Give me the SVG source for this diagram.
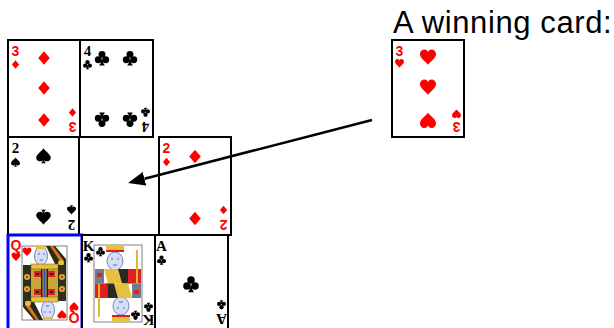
<svg xmlns="http://www.w3.org/2000/svg" xmlns:xlink="http://www.w3.org/1999/xlink" width="614" height="328" viewBox="0 0 614 328">
<style>
.card{fill:#fff;stroke:#000;stroke-width:2}
.qcard{fill:#fff;stroke:#0000ff;stroke-width:3}
.r{fill:#ff0000}
.b{fill:#000}
.rk{font-family:"Liberation Sans",Arial,sans-serif;font-weight:bold;font-size:14px;text-anchor:middle}
.bk{font-family:"Liberation Serif","Times New Roman",serif;font-weight:bold;font-size:15px;text-anchor:middle}
.frame{fill:#fff;stroke:#808080;stroke-width:1}
.title{font-family:"Liberation Sans",Arial,sans-serif;font-size:31px;letter-spacing:0.6px;fill:#000}
.conn{stroke:#000;stroke-width:2.6;fill:none}
</style>
<defs>
<path id="dia" d="M0,-10 L8.5,0 L0,10 L-8.5,0 Z"/>
<path id="hrt" d="M0,9 C-3,5 -10,1 -10,-4 C-10,-8 -7,-10 -4.5,-10 C-2,-10 -0.5,-8.5 0,-6.5 C0.5,-8.5 2,-10 4.5,-10 C7,-10 10,-8 10,-4 C10,1 3,5 0,9 Z"/>
<path id="spd" d="M0,-10 C-2,-6 -10,-2 -10,3 C-10,6.5 -7,8 -4.5,8 C-2.5,8 -1.2,7 -0.8,6 C-1,8 -2,9.5 -4,10.5 L4,10.5 C2,9.5 1,8 0.8,6 C1.2,7 2.5,8 4.5,8 C7,8 10,6.5 10,3 C10,-2 2,-6 0,-10 Z"/>
<g id="clb"><circle cx="0" cy="-5" r="4.8"/><circle cx="-5.2" cy="2.5" r="4.8"/><circle cx="5.2" cy="2.5" r="4.8"/><path d="M-1,2 Q-1,8 -4,10.5 L4,10.5 Q1,8 1,2 Z"/></g>
<marker id="arr" markerUnits="userSpaceOnUse" viewBox="0 0 17 14" refX="0" refY="7" markerWidth="17" markerHeight="14" orient="auto"><path d="M0,0 L17,7 L0,14 Z" fill="#000"/></marker>
<g id="qhalf">
<polygon points="38,11 47,11 58,24 58,31 48,31" fill="#2a2a1a"/>
<polygon points="42,11 45,11 56,26 53,28" fill="#e07020"/>
<circle cx="53" cy="28" r="3" fill="#e8c040"/>
<ellipse cx="33" cy="21" rx="6.5" ry="9.5" fill="#d5def7" stroke="#5a6ab0" stroke-width="0.8"/>
<path d="M30,19 h2 M35,19 h2 M32,25 h3" stroke="#4a5aa0" stroke-width="0.9"/>
<rect x="28" y="11" width="10" height="3" fill="#e8c040"/>
<use xlink:href="#hrt" class="r" transform="translate(19,17) scale(0.45)"/>
<rect x="15" y="30" width="43" height="18" fill="#c9a437"/>
<rect x="15" y="30" width="8" height="18" fill="#2f2f1a"/>
<rect x="50" y="30" width="8" height="18" fill="#2f2f1a"/>
<rect x="23" y="29" width="27" height="5" fill="#e8c040" stroke="#6a5a10" stroke-width="0.5"/>
<rect x="26" y="36" width="7" height="6" fill="#e02020"/>
<rect x="40" y="36" width="7" height="6" fill="#e02020"/>
<rect x="28" y="38" width="3" height="2" fill="#222"/>
<rect x="42" y="38" width="3" height="2" fill="#222"/>
<rect x="35.5" y="34" width="2" height="14" fill="#3050c0"/>
<rect x="33" y="34" width="1.5" height="14" fill="#222"/>
<rect x="38.5" y="34" width="1.5" height="14" fill="#222"/>
<circle cx="19" cy="42" r="3" fill="#d8b030"/>
<circle cx="54" cy="42" r="3" fill="#d8b030"/>
<circle cx="19" cy="42" r="1.2" fill="#e02020"/>
<circle cx="54" cy="42" r="1.2" fill="#e02020"/>
</g>
<g id="khalf">
<rect x="24" y="11" width="18" height="6" fill="#e8c030"/>
<rect x="24" y="15" width="18" height="2" fill="#d02020"/>
<ellipse cx="33" cy="26" rx="8" ry="9" fill="#d5def7" stroke="#5a6ab0" stroke-width="0.8"/>
<path d="M29,24 h2 M35,24 h2 M31,30 h4" stroke="#4a5aa0" stroke-width="0.9"/>
<use xlink:href="#clb" class="b" transform="translate(18.5,16.5) scale(0.45)"/>
<rect x="13" y="34" width="9" height="14.5" fill="#707a90"/>
<polygon points="22,34 36,34 40,48.5 26,48.5" fill="#e8c040"/>
<polygon points="36,34 46,34 48,48.5 40,48.5" fill="#2a2a20"/>
<rect x="46" y="34" width="13" height="14.5" fill="#e02020"/>
<rect x="15" y="38" width="5" height="4" fill="#e02020"/>
<rect x="54" y="15" width="2" height="33" fill="#e0b830"/>
</g>
</defs>

<g id="title"><text class="title" x="393" y="33">A winning card:</text></g>

<g id="card-3d" transform="translate(8,40)">
<rect class="card" x="0" y="0" width="72" height="97"/>
<g><text class="rk r" x="7.5" y="15.5">3</text><use xlink:href="#dia" class="r" transform="translate(7.5,24.5) scale(0.42)"/></g>
<g transform="rotate(180,36,48.5)"><text class="rk r" x="7.5" y="15.5">3</text><use xlink:href="#dia" class="r" transform="translate(7.5,24.5) scale(0.42)"/></g>
<use xlink:href="#dia" class="r" transform="translate(36,18) scale(0.68)"/>
<use xlink:href="#dia" class="r" transform="translate(36,48) scale(0.68)"/>
<use xlink:href="#dia" class="r" transform="translate(36,80) scale(0.68)"/>
</g>

<g id="card-4c" transform="translate(80,40)">
<rect class="card" x="0" y="0" width="73" height="97"/>
<g><text class="bk b" x="7.5" y="15.5">4</text><use xlink:href="#clb" class="b" transform="translate(7.5,24.5) scale(0.45)"/></g>
<g transform="rotate(180,36.5,48.5)"><text class="bk b" x="7.5" y="15.5">4</text><use xlink:href="#clb" class="b" transform="translate(7.5,24.5) scale(0.45)"/></g>
<use xlink:href="#clb" class="b" transform="translate(22,18) scale(0.72)"/>
<use xlink:href="#clb" class="b" transform="translate(50,18) scale(0.72)"/>
<use xlink:href="#clb" class="b" transform="translate(22,80) rotate(180) scale(0.72)"/>
<use xlink:href="#clb" class="b" transform="translate(50,80) rotate(180) scale(0.72)"/>
</g>

<g id="card-2s" transform="translate(8,137)">
<rect class="card" x="0" y="0" width="71" height="98"/>
<g><text class="bk b" x="7.5" y="15.5">2</text><use xlink:href="#spd" class="b" transform="translate(7.5,25) scale(0.45)"/></g>
<g transform="rotate(180,35.5,49)"><text class="bk b" x="7.5" y="15.5">2</text><use xlink:href="#spd" class="b" transform="translate(7.5,25) scale(0.45)"/></g>
<use xlink:href="#spd" class="b" transform="translate(35.5,18.5) scale(0.73)"/>
<use xlink:href="#spd" class="b" transform="translate(35.5,80.5) rotate(180) scale(0.73)"/>
</g>

<g id="card-2d" transform="translate(159,137)">
<rect class="card" x="0" y="0" width="72" height="98"/>
<g><text class="rk r" x="7.5" y="15.5">2</text><use xlink:href="#dia" class="r" transform="translate(7.5,25) scale(0.42)"/></g>
<g transform="rotate(180,36,49)"><text class="rk r" x="7.5" y="15.5">2</text><use xlink:href="#dia" class="r" transform="translate(7.5,25) scale(0.42)"/></g>
<use xlink:href="#dia" class="r" transform="translate(36,19.5) scale(0.68)"/>
<use xlink:href="#dia" class="r" transform="translate(36,81.5) scale(0.68)"/>
</g>

<g id="card-qh" transform="translate(8,235)">
<rect class="qcard" x="0" y="0" width="74" height="97"/>
<rect class="frame" x="14" y="11" width="45" height="74"/>
<use xlink:href="#qhalf"/>
<use xlink:href="#qhalf" transform="rotate(180,36.5,48)"/>
<g><text class="rk r" x="8" y="15">Q</text><use xlink:href="#hrt" class="r" transform="translate(8,22) scale(0.45)"/></g>
<g transform="rotate(180,37,46.5)"><text class="rk r" x="8" y="15">Q</text><use xlink:href="#hrt" class="r" transform="translate(8,22) scale(0.45)"/></g>
</g>

<g id="card-kc" transform="translate(82,235)">
<rect class="card" x="0" y="0" width="73" height="97"/>
<rect class="frame" x="12" y="10" width="48" height="77"/>
<use xlink:href="#khalf"/>
<use xlink:href="#khalf" transform="rotate(180,36,48.5)"/>
<g><text class="bk b" x="6.5" y="15.5">K</text><use xlink:href="#clb" class="b" transform="translate(6.5,22.5) scale(0.45)"/></g>
<g transform="rotate(180,36.5,47.5)"><text class="bk b" x="6.5" y="15.5">K</text><use xlink:href="#clb" class="b" transform="translate(6.5,22.5) scale(0.45)"/></g>
</g>

<g id="card-ac" transform="translate(155,235)">
<rect class="card" x="0" y="0" width="73" height="97"/>
<g><text class="bk b" x="6.5" y="16">A</text><use xlink:href="#clb" class="b" transform="translate(6.5,25) scale(0.45)"/></g>
<g transform="rotate(180,36.5,47.5)"><text class="bk b" x="6.5" y="16">A</text><use xlink:href="#clb" class="b" transform="translate(6.5,25) scale(0.45)"/></g>
<use xlink:href="#clb" class="b" transform="translate(36,49) scale(0.78)"/>
</g>

<g id="card-3h" transform="translate(392,40)">
<rect class="card" x="0" y="0" width="72" height="97"/>
<g><text class="rk r" x="7.5" y="15.5">3</text><use xlink:href="#hrt" class="r" transform="translate(7.5,23.5) scale(0.45)"/></g>
<g transform="rotate(180,36,48.5)"><text class="rk r" x="7.5" y="15.5">3</text><use xlink:href="#hrt" class="r" transform="translate(7.5,23.5) scale(0.45)"/></g>
<use xlink:href="#hrt" class="r" transform="translate(36,17.5) scale(0.8)"/>
<use xlink:href="#hrt" class="r" transform="translate(36,47.5) scale(0.8)"/>
<use xlink:href="#hrt" class="r" transform="translate(36,80) rotate(180) scale(0.8)"/>
</g>

<g id="connectors">
<line class="conn" x1="372" y1="120" x2="144.5" y2="178.75" marker-end="url(#arr)"/>
</g>
</svg>
